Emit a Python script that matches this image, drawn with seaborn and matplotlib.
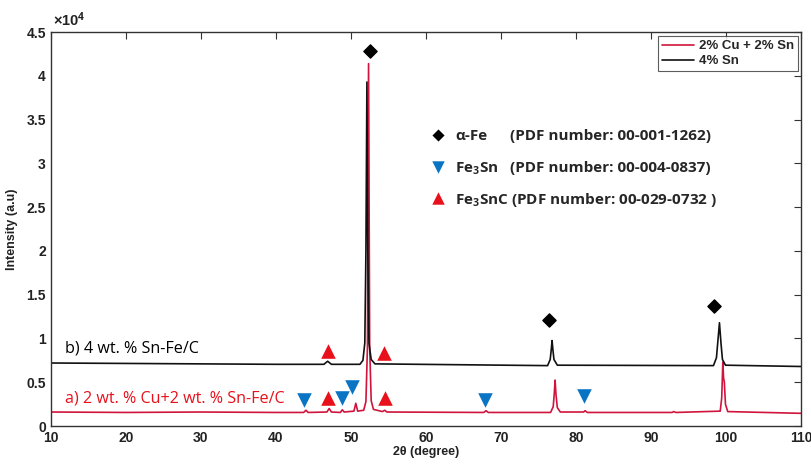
import numpy as np
import pandas as pd
import matplotlib
matplotlib.use("Agg")
import matplotlib.pyplot as plt
from matplotlib.ticker import FuncFormatter, MultipleLocator
import seaborn as sns

# ---------------- data ----------------
# 4% Sn (black) pattern: 2theta and intensity vertices
sn_x = [10, 20, 30, 40, 46.4, 46.9, 47.4, 51.2, 51.6, 51.85, 52.0, 52.13, 52.25, 52.4, 52.7, 53.2,
        76.2, 76.55, 76.7, 76.8, 76.9, 77.05, 77.5, 98.3, 98.7, 98.9, 99.1, 99.3, 99.5, 99.9, 110]
sn_y = [7200, 7150, 7100, 7050, 7050, 7400, 7050, 7050, 7500, 9500, 20000, 39300, 20000, 9500, 7600, 7100,
        6900, 7600, 8800, 9760, 8800, 7600, 6950, 6900, 7800, 9800, 11800, 9500, 7600, 6950, 6800]

# 2% Cu + 2% Sn (red) pattern
cusn_x = [10, 20, 30, 40, 43.7, 44.0, 44.3, 46.8, 47.1, 47.4, 48.6, 48.85, 49.1, 50.4, 50.65, 50.9,
          51.7, 52.0, 52.2, 52.35, 52.5, 52.7, 53.0, 54.2, 54.5, 54.8, 67.7, 68.0, 68.3,
          76.6, 76.95, 77.1, 77.2, 77.32, 77.5, 77.9, 81.0, 81.2, 81.5, 92.8, 93.0, 93.3,
          99.2, 99.4, 99.55, 99.65, 99.75, 99.9, 100.2, 110]
cusn_y = [1600, 1550, 1600, 1550, 1550, 1800, 1550, 1600, 2000, 1600, 1550, 1850, 1600, 1700, 2600, 1700,
          1800, 2800, 9000, 41400, 9000, 2900, 1900, 1650, 1800, 1600, 1550, 1750, 1550,
          1550, 2200, 3800, 5250, 3600, 2100, 1600, 1600, 1750, 1550, 1550, 1650, 1550,
          1700, 3200, 7300, 5500, 5000, 2500, 1650, 1450]

# phase markers
fe_x = [52.6, 76.4, 98.4]
fe_y = [42800, 12100, 13700]
fe3sn_x = [43.8, 48.8, 50.2, 67.9, 81.1]
fe3sn_y = [3000, 3200, 4500, 3000, 3400]
fe3snc_x = [47.0, 54.4, 47.0, 54.5]
fe3snc_y = [8600, 8300, 3200, 3200]

series_names = ["2% Cu + 2% Sn", "4% Sn"]
phase_labels = ["α-Fe", "Fe$_3$Sn", "Fe$_3$SnC"]
phase_pdf = ["(PDF number: 00-001-1262)", "(PDF number: 00-004-0837)", "(PDF number: 00-029-0732 )"]
sample_labels = ["b) 4 wt. % Sn-Fe/C", "a) 2 wt. % Cu+2 wt. % Sn-Fe/C"]

# ---------------- style ----------------
sns.set_style("white")
plt.rcParams['font.family'] = ['Liberation Sans', 'DejaVu Sans']
plt.rcParams['mathtext.fontset'] = 'custom'
plt.rcParams['mathtext.rm'] = 'Open Sans:bold'
plt.rcParams['mathtext.bf'] = 'Open Sans:bold'
plt.rcParams['mathtext.it'] = 'Open Sans:bold'

RED = '#d0143c'
BLACK = '#111111'
BLUE = '#0a74c4'
MRED = '#e8101a'

fig = plt.figure(figsize=(8.11, 4.66), dpi=100)
ax = fig.add_axes([0.0625, 0.0858, 0.988 - 0.0625, 0.931 - 0.0858])

df = pd.concat([
    pd.DataFrame({"x": cusn_x, "y": cusn_y, "s": series_names[0]}),
    pd.DataFrame({"x": sn_x, "y": sn_y, "s": series_names[1]}),
])
sns.lineplot(data=df, x="x", y="y", hue="s", palette={series_names[0]: RED, series_names[1]: BLACK},
             estimator=None, sort=False, lw=1.2, ax=ax)

# markers
ax.scatter(fe_x, fe_y, marker='D', s=45, color='black', zorder=5)
ax.scatter(fe3sn_x, fe3sn_y, marker='v', s=110, color=BLUE, zorder=5, linewidths=0)
ax.scatter(fe3snc_x, fe3snc_y, marker='^', s=110, color=MRED, zorder=5, linewidths=0)

ax.set_xlim(10, 110)
ax.set_ylim(0, 45000)
ax.xaxis.set_major_locator(MultipleLocator(10))
ax.yaxis.set_major_locator(MultipleLocator(5000))
ax.yaxis.set_major_formatter(FuncFormatter(lambda v, p: f"{v/1e4:g}"))
ax.tick_params(direction='in', top=True, right=True, length=5, width=0.8, colors='#333333',
               labelsize=10, labelcolor='#222222')
for lab in ax.get_xticklabels() + ax.get_yticklabels():
    lab.set_fontweight('bold')
for sp in ax.spines.values():
    sp.set_color('#333333')
    sp.set_linewidth(1.0)

ax.set_xlabel("2θ (degree)", fontsize=9, fontweight='bold', color='#222222', labelpad=1)
ax.set_ylabel("Intensity (a.u)", fontsize=9, fontweight='bold', color='#222222', labelpad=6)
ax.text(0.003, 1.008, "×10$^{\\mathbf{4}}$", transform=ax.transAxes, fontsize=10.5, fontweight='bold',
        color='#222222', va='bottom', ha='left')

# legend
leg = ax.legend(loc='upper right', bbox_to_anchor=(0.996, 0.99), borderaxespad=0, frameon=True,
                fancybox=False, fontsize=9.5, handlelength=2.4, handletextpad=0.4, borderpad=0.3,
                labelspacing=0.2)
leg.get_frame().set_edgecolor('#333333')
leg.get_frame().set_linewidth(0.8)
for t in leg.get_texts():
    t.set_fontweight('bold')

# phase key
key_font = ['Open Sans', 'DejaVu Sans']
key_mk = [('D', 'black', 38), ('v', BLUE, 80), ('^', MRED, 80)]
key_y = [33300, 29600, 26000]
pdf_x = [71.2, 71.2, None]
for (m, c, s), yk, lab, pdf, px in zip(key_mk, key_y, phase_labels, phase_pdf, pdf_x):
    ax.scatter([61.6], [yk], marker=m, s=s, color=c, linewidths=0, zorder=5)
    yb = yk - 600
    if px is None:
        ax.text(63.9, yb, lab + " " + pdf, fontsize=11, fontweight='bold', family=key_font,
                va='baseline', ha='left')
    else:
        ax.text(63.9, yb, lab, fontsize=11, fontweight='bold', family=key_font, va='baseline', ha='left')
        ax.text(px, yb, pdf, fontsize=11, fontweight='bold', family=key_font, va='baseline', ha='left')

# sample labels
ax.text(11.9, 8800, sample_labels[0], fontsize=11.6, family=key_font, color='black', va='center')
ax.text(11.9, 3200, sample_labels[1], fontsize=11.6, family=key_font, color=MRED, va='center')

fig.savefig("out.png", dpi=100)
